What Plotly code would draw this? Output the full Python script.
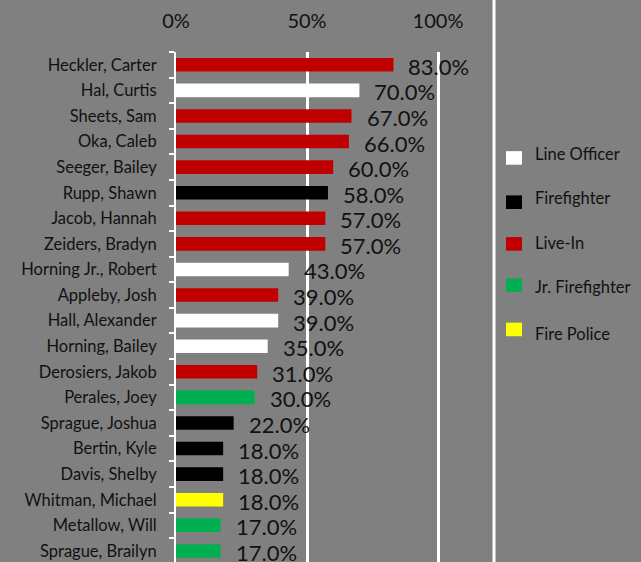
import plotly.graph_objects as go

names = ["Heckler, Carter", "Hal, Curtis", "Sheets, Sam", "Oka, Caleb", "Seeger, Bailey",
         "Rupp, Shawn", "Jacob, Hannah", "Zeiders, Bradyn", "Horning Jr., Robert", "Appleby, Josh",
         "Hall, Alexander", "Horning, Bailey", "Derosiers, Jakob", "Perales, Joey", "Sprague, Joshua",
         "Bertin, Kyle", "Davis, Shelby", "Whitman, Michael", "Metallow, Will", "Sprague, Brailyn"]
values = [0.83, 0.70, 0.67, 0.66, 0.60, 0.58, 0.57, 0.57, 0.43, 0.39,
          0.39, 0.35, 0.31, 0.30, 0.22, 0.18, 0.18, 0.18, 0.17, 0.17]
roles = ["Live-In", "Line Officer", "Live-In", "Live-In", "Live-In",
         "Firefighter", "Live-In", "Live-In", "Line Officer", "Live-In",
         "Line Officer", "Line Officer", "Live-In", "Jr. Firefighter", "Firefighter",
         "Firefighter", "Firefighter", "Fire Police", "Jr. Firefighter", "Jr. Firefighter"]
role_names = ["Line Officer", "Firefighter", "Live-In", "Jr. Firefighter", "Fire Police"]
role_colors = ["#FFFFFF", "#000000", "#C00000", "#00B050", "#FFFF00"]
x_ticks = [0, 0.5, 1.0]
x_tick_labels = ["0%", "50%", "100%"]

color_map = dict(zip(role_names, role_colors))
FONT = "Lato, 'Open Sans', sans-serif"
TXT = "#111111"

W, H = 641, 562
PL, PR, PT = 176, 494, 51.7   # plot area in pixels
PH = H - PT

def px_x(p):
    return (p - PL) / (PR - PL)

def px_y(p):
    return (H - p) / PH

fig = go.Figure()
for r in role_names:
    ys = [n for n, rr in zip(names, roles) if rr == r]
    xs = [v for v, rr in zip(values, roles) if rr == r]
    fig.add_trace(go.Bar(x=xs, y=ys, orientation="h", name=r, width=0.53,
                         marker=dict(color=color_map[r], line=dict(width=0)),
                         showlegend=False, hoverinfo="x+y"))

for n, v in zip(names, values):
    fig.add_annotation(x=v, y=n, text=f"{v*100:.1f}%", showarrow=False,
                       xanchor="left", yanchor="middle", xshift=13, yshift=-1.5,
                       font=dict(family=FONT, size=22, color=TXT))

# manual legend
sq_y = [157.7, 202, 243.7, 285, 329.3]
tx_y = [152.5, 197, 241.5, 286, 333]
for r, c, sy, ty in zip(role_names, role_colors, sq_y, tx_y):
    fig.add_shape(type="rect", xref="paper", yref="paper",
                  x0=px_x(506), x1=px_x(522),
                  y0=px_y(sy + 6.8), y1=px_y(sy - 6.8),
                  fillcolor=c, line=dict(width=0))
    fig.add_annotation(xref="paper", yref="paper", x=px_x(533),
                       y=px_y(ty + 1), text=r, showarrow=False,
                       xanchor="left", yanchor="middle",
                       font=dict(family=FONT, size=16.5, color=TXT))

# separator line
fig.add_shape(type="line", xref="paper", yref="paper",
              x0=px_x(494), x1=px_x(494), y0=-0.1, y1=1.2,
              line=dict(color="#FFFFFF", width=3))

rows_visible = PH / 25.6
fig.update_layout(
    width=W, height=H,
    margin=dict(l=PL, r=W - PR, t=PT, b=0, autoexpand=False),
    paper_bgcolor="#808080", plot_bgcolor="#808080",
    barmode="relative",
    font=dict(family=FONT, color=TXT),
    xaxis=dict(side="top", range=[0, (PR - PL) / 262], tickvals=x_ticks, ticktext=x_tick_labels,
               showgrid=True, gridcolor="#FFFFFF", gridwidth=2.5, zeroline=False,
               tickfont=dict(family=FONT, size=20, color=TXT), ticks="",
               ticklabelstandoff=19, automargin=False),
    yaxis=dict(categoryorder="array", categoryarray=names,
               range=[-0.5 + rows_visible, -0.5],
               showline=True, linecolor="#FFFFFF", linewidth=2,
               ticks="outside", tickson="boundaries", ticklen=5, tickcolor="#FFFFFF",
               tickwidth=2, showgrid=False, automargin=False,
               tickfont=dict(family=FONT, size=16.5, color=TXT), ticklabelstandoff=14),
)

fig.write_html("out.html", config={"displayModeBar": False},
               post_script="document.body.style.margin='0';document.body.style.overflow='hidden';")
